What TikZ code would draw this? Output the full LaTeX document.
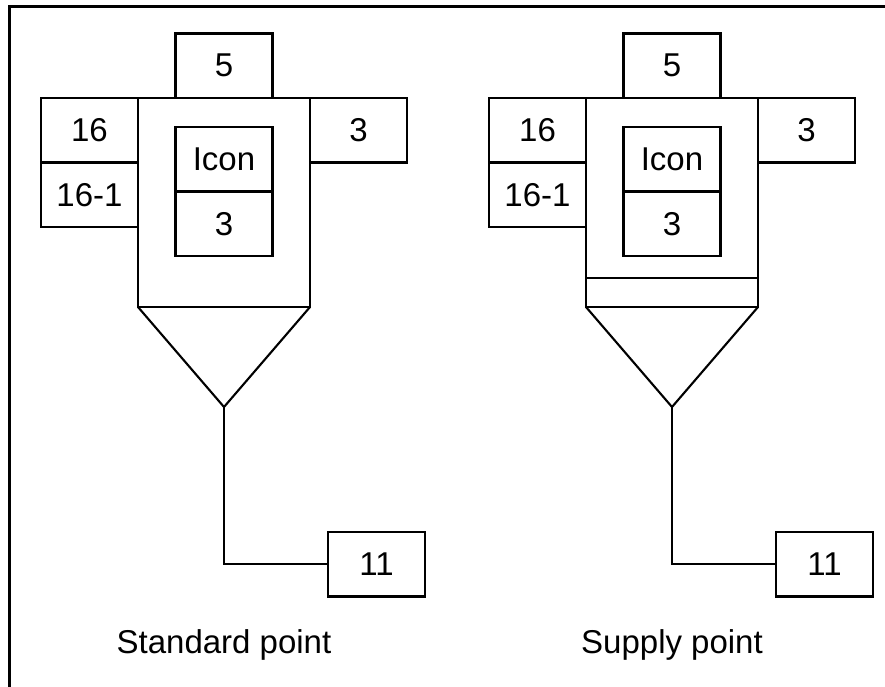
\documentclass[tikz,border=0pt]{standalone}
\usepackage{fontspec}
\setmainfont{Liberation Sans}
\usetikzlibrary{positioning}

\begin{document}
\begin{tikzpicture}[x=1pt, y=-1pt, line width=2.1pt,
  box/.style={draw, rectangle, minimum width=97pt, minimum height=64.5pt,
    inner sep=0pt, outer sep=0pt, font=\fontsize{33}{38}\selectfont},
  housing/.style={draw, rectangle, minimum width=172pt, minimum height=209pt,
    inner sep=0pt, outer sep=0pt},
  caption/.style={font=\fontsize{33}{38}\selectfont}]

\useasboundingbox (0,0) rectangle (885,687);

% frame
\draw[line width=3pt] (9,687) -- (9,7) -- (885,7);

% the two points (manual positions, same layout)
\foreach \pt/\dx/\name in {std/0/Standard point, sup/448/Supply point} {
  \node[housing] (\pt-body) at (224+\dx,202.5) {};
  \node[box, above=0pt of \pt-body] (\pt-top) {5};
  \node[box, left=0pt of \pt-body.north west, anchor=north east] (\pt-left) {16};
  \node[box, below=0pt of \pt-left] (\pt-leftsub) {16-1};
  \node[box, anchor=north west] (\pt-right) at (\pt-body.north east) {3};
  \node[box, below=29pt of \pt-body.north] (\pt-icon) {Icon};
  \node[box, below=0pt of \pt-icon] (\pt-inner) {3};
  \coordinate[below=100pt of \pt-body.south] (\pt-tip);
  \node[box, below right=125pt and 104pt of \pt-tip] (\pt-out) {11};
  \node[caption] (\pt-caption) at (224+\dx,645) {\name};

  % hopper and lead
  \draw[line join=miter] (\pt-body.south west) -- (\pt-tip) -- (\pt-body.south east);
  \draw (\pt-tip) |- (\pt-out.west);
}

% extra band of the supply point
\draw ([yshift=29pt]sup-body.south west) -- ([yshift=29pt]sup-body.south east);

\end{tikzpicture}
\end{document}
